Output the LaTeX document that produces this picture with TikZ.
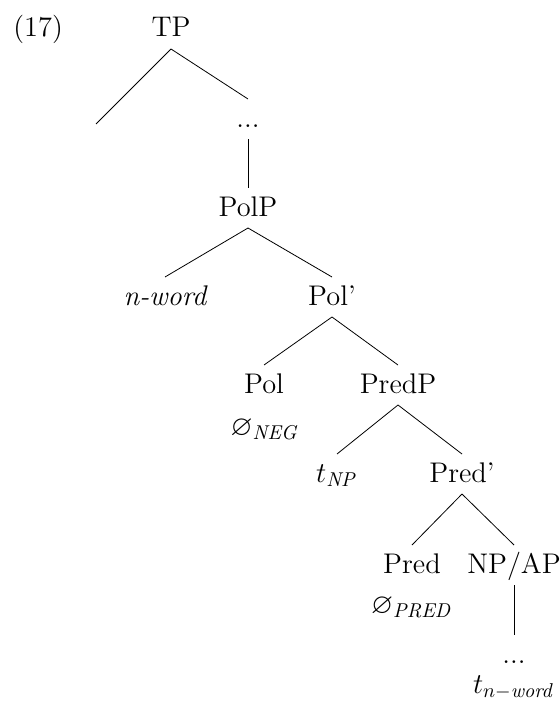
\documentclass[tikz,border=0pt]{standalone}
\usepackage{amsmath,amssymb}
\usetikzlibrary{positioning}

\tikzset{
  cat/.style={inner sep=0pt, text height=9.6pt, text depth=1.6pt, outer ysep=4.4pt, anchor=base, font=\fontsize{14.2}{17}\selectfont},
  gloss/.style={inner sep=0pt, anchor=base, font=\fontsize{14.2}{17}\selectfont},
  branch/.style={line width=0.4pt, black}
}

\begin{document}
\begin{tikzpicture}[x=0.5pt, y=-0.5pt]
  \useasboundingbox (0,0) rectangle (559,706);

  \node[gloss, anchor=base west] (num) at (13,37) {(17)};

  % top of the tree
  \node[cat] (tp) at (171,37) {TP};
  \coordinate (tpleft) at (96,124);
  \node[cat] (dotsa) at (248,127) {...};
  \node[cat] (polp) at (248,216) {PolP};

  % polarity layer
  \node[cat] (nword) at (165,305) {\itshape n-word};
  \node[cat] (polbar) at (332,305) {Pol'};
  \node[cat] (pol) at (264,393) {Pol};
  \node[gloss] (polnull) at (265,435) {$\varnothing_{\mathit{NEG}}$};
  \node[cat] (predp) at (398,393) {PredP};

  % predication layer
  \node[cat] (tnp) at (337,482) {$t_{\mathit{NP}}$};
  \node[cat] (predbar) at (462,482) {Pred'};
  \node[cat] (pred) at (412,573) {Pred};
  \node[gloss] (prednull) at (412,613) {$\varnothing_{\mathit{PRED}}$};
  \node[cat] (npap) at (514,573) {NP/AP};
  \node[cat] (dotsb) at (514,663) {...};
  \node[gloss] (trace) at (514,693) {$t_{n-\mathit{word}}$};

  \draw[branch] (tp.south) -- (tpleft);
  \draw[branch] (tp.south) -- (dotsa.north);
  \draw[branch] (dotsa.south) -- (polp.north);
  \draw[branch] (polp.south) -- (nword.north);
  \draw[branch] (polp.south) -- (polbar.north);
  \draw[branch] (polbar.south) -- (pol.north);
  \draw[branch] (polbar.south) -- (predp.north);
  \draw[branch] (predp.south) -- (tnp.north);
  \draw[branch] (predp.south) -- (predbar.north);
  \draw[branch] (predbar.south) -- (pred.north);
  \draw[branch] (predbar.south) -- (npap.north);
  \draw[branch] (npap.south) -- (dotsb.north);
\end{tikzpicture}
\end{document}
